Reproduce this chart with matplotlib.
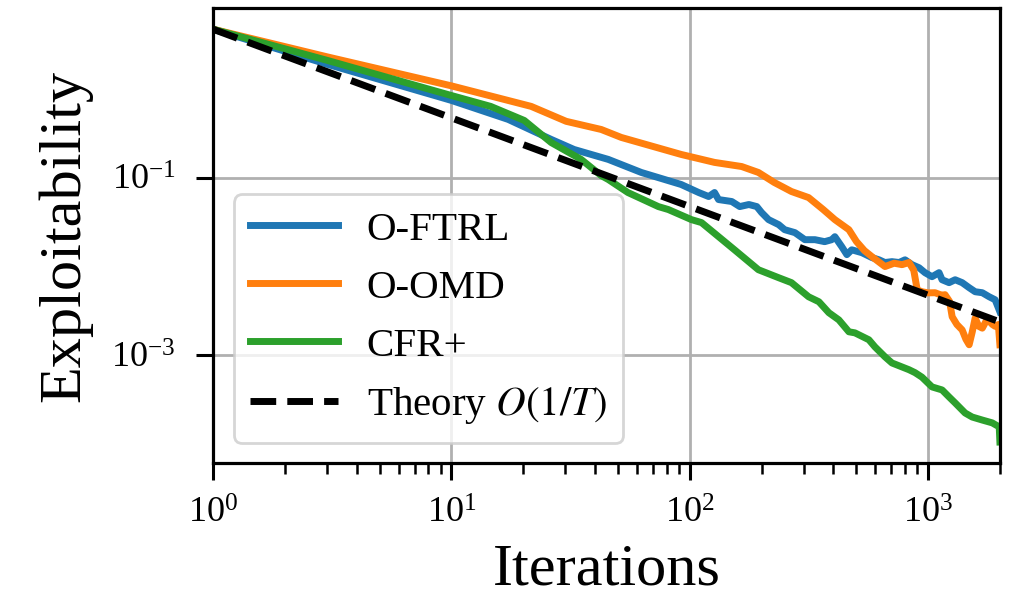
import matplotlib
matplotlib.use("Agg")
import matplotlib.pyplot as plt
from matplotlib.ticker import NullLocator

plt.rcParams['font.family'] = ['Liberation Serif', 'DejaVu Serif']
plt.rcParams['mathtext.fontset'] = 'stix'

# Data (iterations, exploitability)
ftrl_T = [1, 3, 10, 17.3, 26.2, 32.7, 45.5, 62.6, 92, 109, 120, 127, 132, 150, 162, 177,
          191, 200, 214, 236, 250, 276, 304, 335, 368, 394, 406, 434, 456, 478, 527, 581,
          622, 659, 705, 755, 800, 856, 916, 970, 1038, 1111, 1144, 1224, 1298, 1389,
          1486, 1575, 1687, 1803, 1910, 2000]
ftrl_vals = [4.70, 1.90, 0.74, 0.452, 0.269, 0.207, 0.160, 0.114, 0.0834, 0.0677, 0.0610,
             0.0677, 0.0564, 0.0536, 0.0470, 0.0496, 0.0470, 0.0403, 0.0335, 0.0294, 0.0258,
             0.0239, 0.0199, 0.0199, 0.0189, 0.0199, 0.0215, 0.0166, 0.0135, 0.0153, 0.0142,
             0.0125, 0.0118, 0.0110, 0.01125, 0.0110, 0.0118, 0.0104, 0.0096, 0.00845,
             0.00761, 0.00845, 0.00703, 0.00652, 0.00703, 0.00652, 0.00572, 0.00515,
             0.00502, 0.00452, 0.00418, 0.00306]

omd_T = [1, 3, 10, 21.6, 30.3, 42.5, 51.6, 92, 127, 165, 194, 226, 267, 315, 363, 406,
         465, 500, 540, 581, 659, 720, 777, 831, 870, 900, 942, 1000, 1069, 1140, 1177,
         1230, 1261, 1320, 1389, 1440, 1486, 1530, 1575, 1630, 1687, 1750, 1803, 1860,
         1910, 1970, 2000]
omd_vals = [4.70, 2.30, 1.08, 0.634, 0.430, 0.348, 0.283, 0.182, 0.148, 0.133, 0.114,
            0.088, 0.0695, 0.0594, 0.0435, 0.0335, 0.0258, 0.0190, 0.0150, 0.0128, 0.0099,
            0.0108, 0.0104, 0.0110, 0.0090, 0.0054, 0.00515, 0.0050, 0.00502, 0.0047,
            0.00477, 0.0040, 0.00269, 0.0022, 0.00191, 0.0015, 0.00130, 0.0018, 0.0026,
            0.0021, 0.0020, 0.0024, 0.0024, 0.0022, 0.0021, 0.0022, 0.0013]

cfr_T = [1, 3, 10, 14.6, 20.2, 26.2, 35, 42.5, 45.5, 55, 73.8, 81.3, 101.6, 112, 154, 194,
         236, 267, 315, 348, 383, 422, 465, 493, 564, 598, 659, 705, 831, 881, 942, 1038,
         1144, 1224, 1298, 1429, 1530, 1687, 1857, 1987, 2000]
cfr_vals = [4.70, 2.10, 0.84, 0.634, 0.44, 0.248, 0.160, 0.105, 0.0949, 0.0677, 0.047,
            0.0435, 0.0335, 0.0310, 0.0153, 0.00912, 0.00741, 0.00652, 0.00452, 0.00397,
            0.00299, 0.00248, 0.00182, 0.00177, 0.00148, 0.00123, 0.00095, 0.00081,
            0.00068, 0.00063, 0.00056, 0.000435, 0.000402, 0.000335, 0.000287, 0.000221,
            0.000199, 0.000184, 0.000171, 0.000154, 0.000104]

theory_T = [1, 2000]
theory_vals = [4.70, 0.00235]

fig = plt.figure(figsize=(10.1, 6.0), dpi=100)
ax = fig.add_axes([0.211, 0.228, 0.779, 0.759])

lw = 5.0
ax.plot(ftrl_T, ftrl_vals, color='#1f77b4', lw=lw, label='O-FTRL')
ax.plot(omd_T, omd_vals, color='#ff7f0e', lw=lw, label='O-OMD')
ax.plot(cfr_T, cfr_vals, color='#2ca02c', lw=lw, label='CFR+')
ax.plot(theory_T, theory_vals, color='black', lw=lw, ls='--', label=r'Theory $O(1/T)$')

ax.set_xscale('log')
ax.set_yscale('log')
ax.set_xlim(1, 2000)
ax.set_ylim(6.0e-5, 8.2)

ax.set_yticks([1e-3, 1e-1])
ax.yaxis.set_minor_locator(NullLocator())

ax.grid(True, which='major', color='#b0b0b0', lw=2.0)
ax.set_axisbelow(True)

for s in ax.spines.values():
    s.set_linewidth(2.3)
ax.tick_params(which='major', length=12, width=2.2, labelsize=26)
ax.tick_params(axis='x', which='major', pad=13)
ax.tick_params(axis='y', which='major', pad=15)
ax.tick_params(which='minor', length=8, width=1.8)

ax.set_xlabel('Iterations', fontsize=43.5, labelpad=9)
ax.set_ylabel('Exploitability', fontsize=43.5, labelpad=14)

leg = ax.legend(loc='lower left', fontsize=29.5, handlelength=2.15, handletextpad=0.7,
                framealpha=0.8, fancybox=True)
leg.get_frame().set_linewidth(2.0)

fig.savefig('out.png', dpi=100)
